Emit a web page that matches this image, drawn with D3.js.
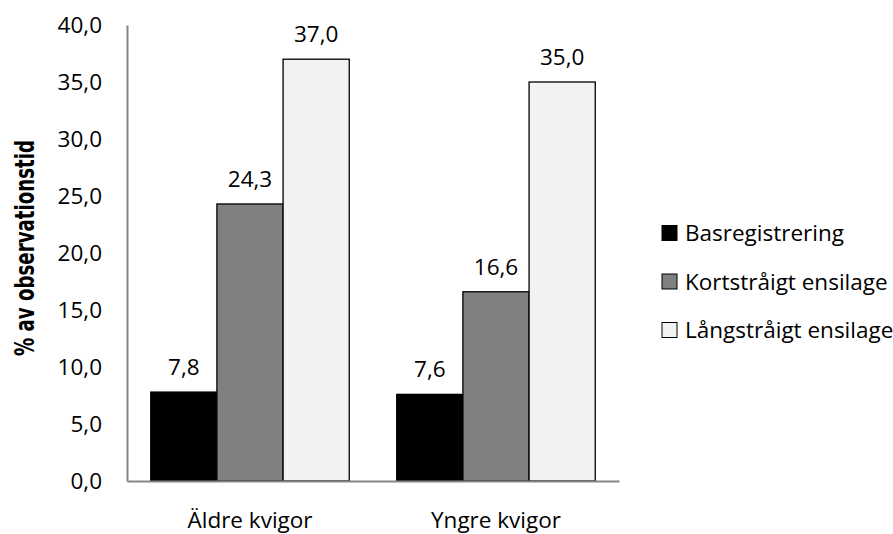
<!DOCTYPE html>
<html><head><meta charset="utf-8">
<script src="https://cdn.jsdelivr.net/npm/d3@7"></script>
<style>body{margin:0;background:#fff}svg{display:block}text{font-family:"Open Sans",sans-serif}</style>
</head><body>
<svg id="c" width="893" height="534"></svg>
<script>
const categories = ["Äldre kvigor", "Yngre kvigor"];
const seriesNames = ["Basregistrering", "Kortstråigt ensilage", "Långstråigt ensilage"];
const basregistrering = [7.8, 7.6];
const kortstraigt = [24.3, 16.6];
const langstraigt = [37.0, 35.0];
const yTicks = [0, 5, 10, 15, 20, 25, 30, 35, 40];
const colors = ["#000000", "#808080", "#f2f2f2"];

(function () {
const seriesValues = [basregistrering, kortstraigt, langstraigt];
const fmt = v => v.toFixed(1).replace(".", ",");
const svg = d3.select("#c");
const mLeft = 127, mRight = 619, mTop = 25, mBottom = 481;
const fs = 22.5;

const x0 = d3.scaleBand().domain(categories).range([mLeft, mRight]).paddingInner(0.193).paddingOuter(0.0965);
const x1 = d3.scaleBand().domain(seriesNames).range([0, x0.bandwidth()]);
const y = d3.scaleLinear().domain([0, 40]).range([mBottom, mTop]);

const ya = svg.append("g").attr("transform", `translate(${mLeft},0)`)
  .call(d3.axisLeft(y).tickValues(yTicks).tickSize(0).tickPadding(25).tickFormat(fmt));
ya.select(".domain").attr("stroke", "#868686").attr("stroke-width", 2);
ya.selectAll("text").attr("font-size", fs).attr("fill", "#000").style("font-family", '"Open Sans",sans-serif');

const groups = svg.append("g").selectAll("g").data(categories).join("g")
  .attr("transform", d => `translate(${x0(d)},0)`);
const rows = (c, ci) => seriesNames.map((s, si) => ({s, si, v: seriesValues[si][ci]}));
groups.selectAll("rect").data(rows).join("rect")
  .attr("x", d => x1(d.s)).attr("width", x1.bandwidth())
  .attr("y", d => y(d.v)).attr("height", d => y(0) - y(d.v))
  .attr("fill", d => colors[d.si]).attr("stroke", "#000").attr("stroke-width", 1.3);
groups.selectAll("text.lbl").data(rows).join("text").attr("class", "lbl")
  .attr("x", d => x1(d.s) + x1.bandwidth() / 2).attr("y", d => y(d.v) - 17)
  .attr("text-anchor", "middle").attr("font-size", fs).text(d => fmt(d.v));

const xa = svg.append("g").attr("transform", `translate(0,${mBottom})`)
  .call(d3.axisBottom(x0).tickSize(0).tickPadding(31));
xa.select(".domain").attr("stroke", "#868686").attr("stroke-width", 2);
xa.selectAll("text").attr("font-size", fs).attr("fill", "#000").style("font-family", '"Open Sans",sans-serif');

svg.append("text").attr("transform", `translate(34,248) rotate(-90)`)
  .attr("text-anchor", "middle").attr("font-size", 27).attr("font-weight", "bold")
  .style("font-family", '"Liberation Sans Narrow","DejaVu Sans Condensed","Open Sans",sans-serif')
  .attr("textLength", 216).attr("lengthAdjust", "spacingAndGlyphs")
  .text("% av observationstid");

const lg = svg.append("g").selectAll("g").data(seriesNames).join("g")
  .attr("transform", (d, i) => `translate(662,${233 + i * 48.5})`);
lg.append("rect").attr("x", 0).attr("y", -7.5).attr("width", 15).attr("height", 15)
  .attr("fill", (d, i) => colors[i]).attr("stroke", "#000").attr("stroke-width", 1);
lg.append("text").attr("x", 23).attr("y", 0).attr("dy", "0.36em").attr("font-size", fs).text(d => d);
})();
</script>
</body></html>
